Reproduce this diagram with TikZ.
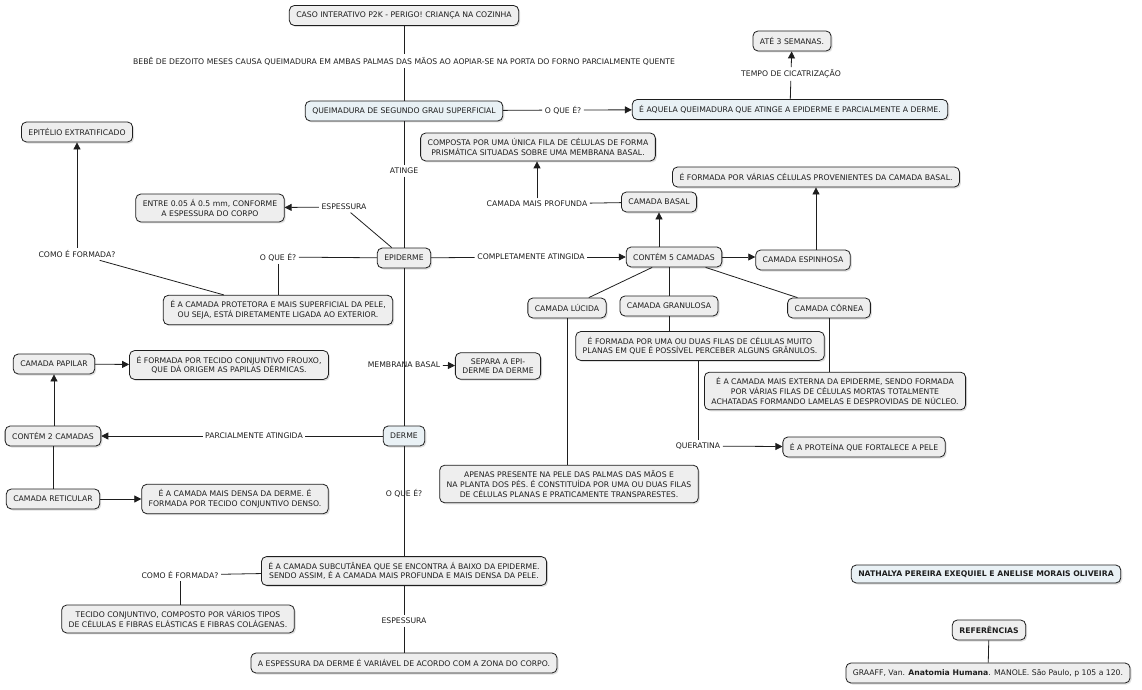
\documentclass[tikz,border=0pt]{standalone}
\usepackage{fontspec}
\setmainfont{DejaVu Sans}
\usepackage{tikz}
\usetikzlibrary{shapes,arrows.meta,positioning,calc,shadows}
\definecolor{conceptgray}{RGB}{238,238,238}
\definecolor{conceptblue}{RGB}{233,241,245}
\definecolor{inkgray}{RGB}{30,30,30}

\tikzset{
  concept/.style={rectangle, draw=inkgray, line width=0.8pt, rounded corners=5pt,
    fill=conceptgray, text=inkgray, font=\fontsize{7.7}{9.7}\selectfont, align=center,
    inner xsep=7pt, inner ysep=5.5pt, minimum height=20pt,
    drop shadow={shadow xshift=1.5pt, shadow yshift=-1.5pt, opacity=0.25, fill=black!50}},
  conceptb/.style={concept, fill=conceptblue},
  linkphrase/.style={font=\fontsize{7.7}{9.7}\selectfont, text=inkgray, inner sep=2.5pt},
  conn/.style={draw=inkgray, line width=0.8pt},
  connarrow/.style={conn, -{Triangle[length=7pt,width=7pt]}}
}

\begin{document}
\begin{tikzpicture}[x=1pt, y=-1pt]
    \useasboundingbox (0,0) rectangle (1142,690);

    % queimadura
    \node[concept] (caso) at (404,15.5) {CASO INTERATIVO P2K - PERIGO! CRIANÇA NA COZINHA};
    \node[linkphrase] (bebe) at (404,61) {BEBÊ DE DEZOITO MESES CAUSA QUEIMADURA EM AMBAS PALMAS DAS MÃOS AO AOPIAR-SE NA PORTA DO FORNO PARCIALMENTE QUENTE};
    \node[conceptb] (queim) at (404,111) {QUEIMADURA DE SEGUNDO GRAU SUPERFICIAL};
    \node[linkphrase] (oque1) at (563,110) {O QUE É?};
    \node[conceptb] (aquela) at (790,109.5) {É AQUELA QUEIMADURA QUE ATINGE A EPIDERME E PARCIALMENTE A DERME.};
    \node[linkphrase] (tempo) at (791,74) {TEMPO DE CICATRIZAÇÃO};
    \node[concept] (ate) at (792,41) {ATÉ 3 SEMANAS.};
    \node[linkphrase] (atinge) at (404,171) {ATINGE};

    % epiderme
    \node[concept] (epiderme) at (404,258) {EPIDERME};
    \node[linkphrase] (espess1) at (344,207) {ESPESSURA};
    \node[concept] (entre) at (210,208) {ENTRE 0.05 Á 0.5 mm, CONFORME\\A ESPESSURA DO CORPO};
    \node[linkphrase] (oque2) at (278,257) {O QUE É?};
    \node[concept] (protetora) at (278,310) {É A CAMADA PROTETORA E MAIS SUPERFICIAL DA PELE,\\OU SEJA, ESTÁ DIRETAMENTE LIGADA AO EXTERIOR.};
    \node[linkphrase] (comoe1) at (77,254) {COMO É FORMADA?};
    \node[concept] (epitelio) at (77,132) {EPITÉLIO EXTRATIFICADO};
    \node[linkphrase] (completa) at (531,257) {COMPLETAMENTE ATINGIDA};
    \node[concept] (contem5) at (674,257) {CONTÉM 5 CAMADAS};
    \node[concept] (basal) at (659,202) {CAMADA BASAL};
    \node[linkphrase] (profunda) at (537,204) {CAMADA MAIS PROFUNDA};
    \node[concept] (composta) at (538,147) {COMPOSTA POR UMA ÚNICA FILA DE CÉLULAS DE FORMA\\PRISMÁTICA SITUADAS SOBRE UMA MEMBRANA BASAL.};
    \node[concept] (espinhosa) at (803,260) {CAMADA ESPINHOSA};
    \node[concept] (formada1) at (816,177) {É FORMADA POR VÁRIAS CÉLULAS PROVENIENTES DA CAMADA BASAL.};
    \node[concept] (lucida) at (567,308) {CAMADA LÚCIDA};
    \node[concept] (granulosa) at (669,306) {CAMADA GRANULOSA};
    \node[concept] (cornea) at (829,308) {CAMADA CÔRNEA};
    \node[concept] (apenas) at (569,484) {APENAS PRESENTE NA PELE DAS PALMAS DAS MÃOS E\\NA PLANTA DOS PÉS. É CONSTITUÍDA POR UMA OU DUAS FILAS\\DE CÉLULAS PLANAS E PRATICAMENTE TRANSPARESTES.};
    \node[concept] (granudesc) at (700,346) {É FORMADA POR UMA OU DUAS FILAS DE CÉLULAS MUITO\\PLANAS EM QUE É POSSÍVEL PERCEBER ALGUNS GRÂNULOS.};
    \node[linkphrase] (queratina) at (698,446) {QUERATINA};
    \node[concept] (proteina) at (864,447) {É A PROTEÍNA QUE FORTALECE A PELE};
    \node[concept] (corneadesc) at (835,391) {É A CAMADA MAIS EXTERNA DA EPIDERME, SENDO FORMADA\\POR VÁRIAS FILAS DE CÉLULAS MORTAS TOTALMENTE\\ACHATADAS FORMANDO LAMELAS E DESPROVIDAS DE NÚCLEO.};
    \node[linkphrase] (membrana) at (404,365) {MEMBRANA BASAL};
    \node[concept] (separa) at (498,366) {SEPARA A EPI-\\DERME DA DERME};

    % derme
    \node[conceptb] (derme) at (404,436) {DERME};
    \node[linkphrase] (parcial) at (254,436) {PARCIALMENTE ATINGIDA};
    \node[concept] (contem2) at (53,436) {CONTÉM 2 CAMADAS};
    \node[concept] (papilar) at (54,364) {CAMADA PAPILAR};
    \node[concept] (papilardesc) at (229,365) {É FORMADA POR TECIDO CONJUNTIVO FROUXO,\\QUE DÁ ORIGEM AS PAPILAS DÉRMICAS.};
    \node[concept] (reticular) at (53,499) {CAMADA RETICULAR};
    \node[concept] (reticdesc) at (235,499) {É A CAMADA MAIS DENSA DA DERME. É\\FORMADA POR TECIDO CONJUNTIVO DENSO.};
    \node[linkphrase] (oque3) at (404,493) {O QUE É?};
    \node[concept] (subcut) at (404,571) {É A CAMADA SUBCUTÂNEA QUE SE ENCONTRA Á BAIXO DA EPIDERME.\\SENDO ASSIM, É A CAMADA MAIS PROFUNDA E MAIS DENSA DA PELE.};
    \node[linkphrase] (comoe2) at (180,575) {COMO É FORMADA?};
    \node[concept] (tecido) at (178,619) {TECIDO CONJUNTIVO, COMPOSTO POR VÁRIOS TIPOS\\DE CÉLULAS E FIBRAS ELÁSTICAS E FIBRAS COLÁGENAS.};
    \node[linkphrase] (espess2) at (404,621) {ESPESSURA};
    \node[concept] (espdesc) at (404,663) {A ESPESSURA DA DERME É VARIÁVEL DE ACORDO COM A ZONA DO CORPO.};

    % autoras e referencias
    \node[conceptb, font=\fontsize{7.7}{9.7}\selectfont\bfseries, minimum height=18pt] (autoras) at (986,574) {NATHALYA PEREIRA EXEQUIEL E ANELISE MORAIS OLIVEIRA};
    \node[concept, font=\fontsize{7.7}{9.7}\selectfont\bfseries] (refs) at (989,630) {REFERÊNCIAS};
    \node[concept] (graaff) at (988,673) {GRAAFF, Van. \textbf{Anatomia Humana}. MANOLE. São Paulo, p 105 a 120.};

    \draw[conn] (caso) -- (bebe);
    \draw[conn] (bebe) -- (queim);
    \draw[conn] (queim) -- (oque1);
    \draw[connarrow] (oque1) -- (aquela);
    \draw[conn] (aquela) -- (tempo);
    \draw[connarrow] (tempo) -- (ate);
    \draw[conn] (queim) -- (atinge);
    \draw[conn] (atinge) -- (epiderme);
    \draw[conn] (epiderme) -- (espess1);
    \draw[connarrow] (espess1) -- (entre);
    \draw[conn] (epiderme) -- (oque2);
    \draw[conn] (oque2) -- (protetora);
    \draw[conn] (protetora) -- (comoe1);
    \draw[connarrow] (comoe1) -- (epitelio);
    \draw[conn] (epiderme) -- (completa);
    \draw[connarrow] (completa) -- (contem5);
    \draw[connarrow] (contem5.north -| basal) -- (basal);
    \draw[conn] (basal) -- (profunda);
    \draw[connarrow] (profunda) -- (composta.south -| profunda);
    \draw[connarrow] (contem5) -- (espinhosa.west |- contem5);
    \draw[connarrow] (espinhosa.north -| formada1) -- (formada1);
    \draw[conn] (contem5) -- (lucida);
    \draw[conn] (contem5.south -| granulosa) -- (granulosa);
    \draw[conn] (contem5) -- (cornea);
    \draw[conn] (lucida) -- (apenas.north -| lucida);
    \draw[conn] (granulosa) -- (granudesc.north -| granulosa);
    \draw[conn] (granudesc.south -| queratina) -- (queratina);
    \draw[connarrow] (queratina) -- (proteina);
    \draw[conn] (cornea) -- (corneadesc.north -| cornea);
    \draw[conn] (epiderme) -- (derme);
    \draw[connarrow] (membrana) -- (separa);
    \draw[conn] (derme) -- (parcial);
    \draw[connarrow] (parcial) -- (contem2);
    \draw[connarrow] (contem2.north -| papilar) -- (papilar);
    \draw[conn] (contem2) -- (reticular);
    \draw[connarrow] (papilar) -- (papilardesc);
    \draw[connarrow] (reticular) -- (reticdesc);
    \draw[conn] (derme) -- (subcut);
    \draw[conn] (subcut) -- (comoe2);
    \draw[conn] (comoe2) -- (tecido.north -| comoe2);
    \draw[conn] (subcut) -- (espess2);
    \draw[conn] (espess2) -- (espdesc);
    \draw[conn] (refs) -- (graaff);
\end{tikzpicture}
\end{document}
